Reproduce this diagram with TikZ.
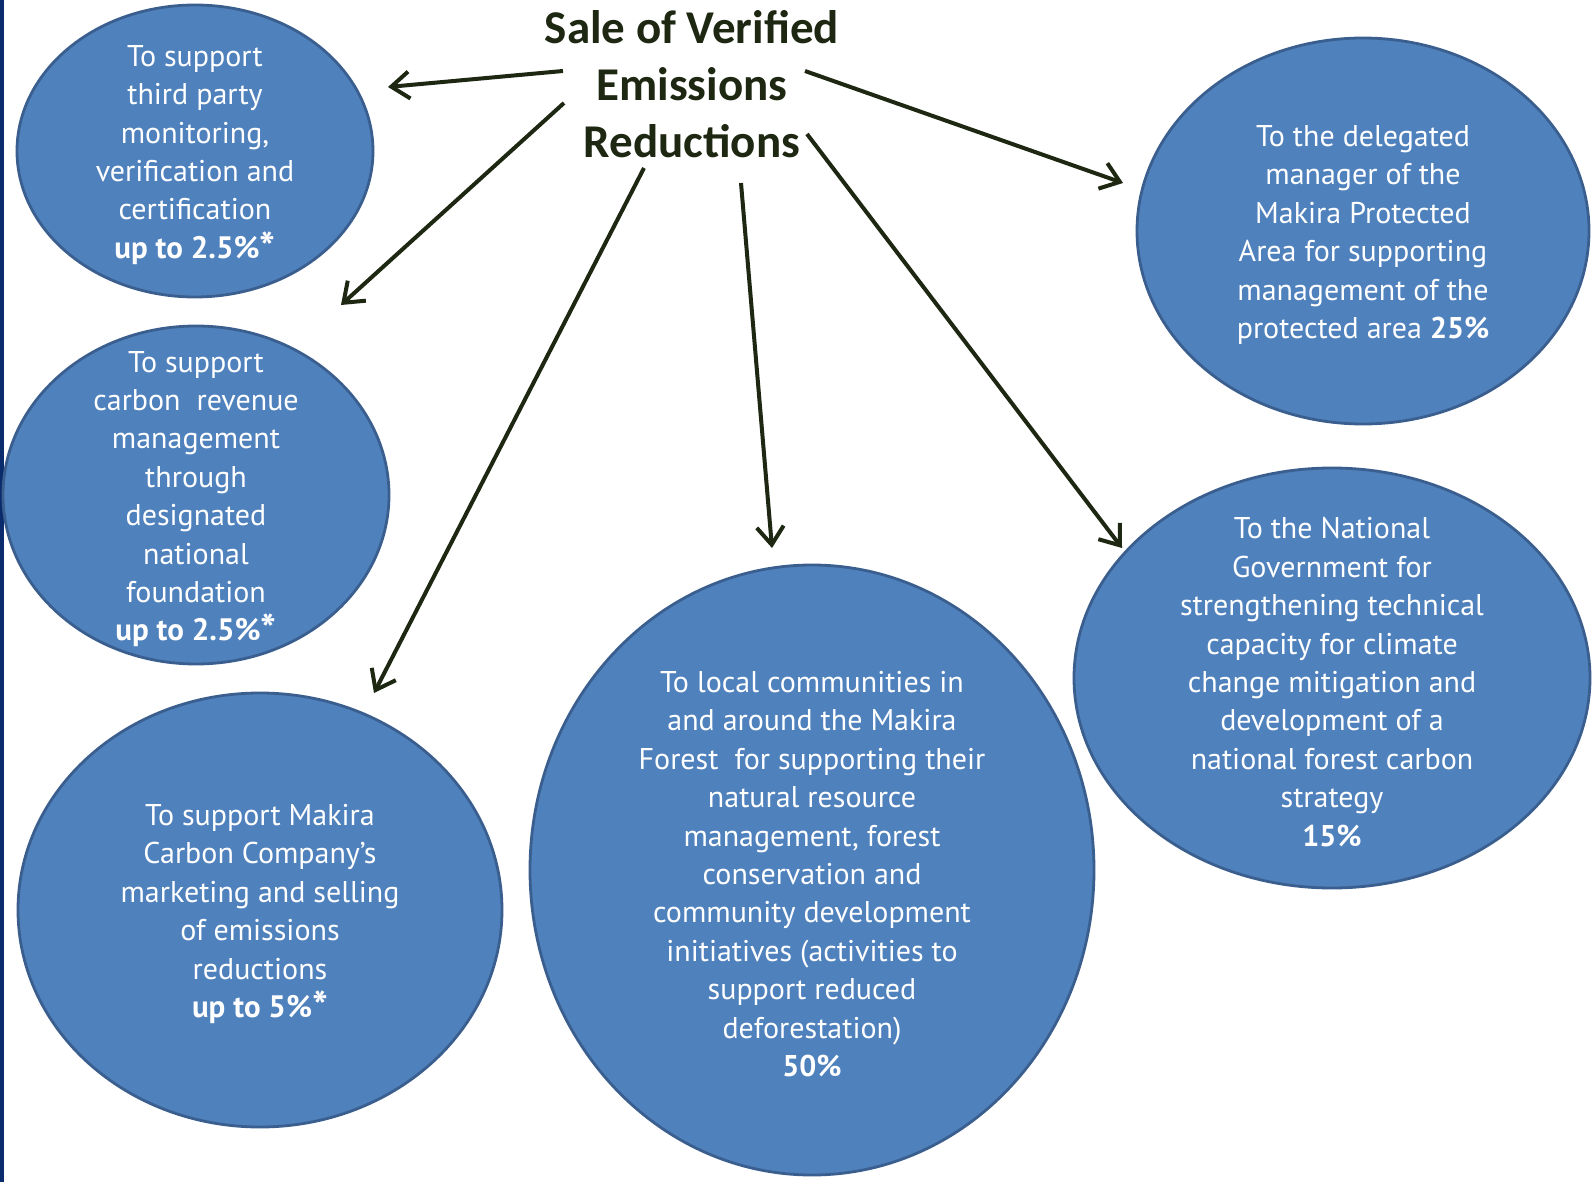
\documentclass[tikz,border=0pt]{standalone}
\usepackage{fontspec}
\setmainfont{PT Sans}
\newfontfamily\headfont{Carlito}
\usetikzlibrary{arrows.meta}
\usetikzlibrary{shapes.geometric}
\usetikzlibrary{positioning}
\definecolor{slideblue}{HTML}{4F81BD}
\definecolor{rimblue}{HTML}{3A5F8F}
\definecolor{inkgreen}{HTML}{1D2711}
\definecolor{barnavy}{HTML}{0B2C6C}
\tikzset{
share/.style={ellipse,
  draw=rimblue, line width=2.8pt, fill=slideblue,
    inner sep=0pt},
sharetext/.style={text=white, yshift=-4pt,
  inner sep=0pt,
    font=\fontsize{30}{38.4}\selectfont,
    align=center},
flow/.style={draw=inkgreen,
  line width=4pt, -{Straight Barb[length=18pt,width=27pt]},},
}
\newcommand{\upto}[1]{{\fontsize{31}{38.4}\selectfont\textbf{#1}}}
\newcommand{\bigstar}{\raisebox{-0.12em}{\fontsize{42}{38.4}\selectfont\textbf{*}}}

\begin{document}
\begin{tikzpicture}[x=1pt,y=-1pt]
    \useasboundingbox (0,0) rectangle (1595,1182);
    \fill[white] (0,0) rectangle (1595,1182);
    \fill[barnavy] (0,0) rectangle (4,1182);

    \node [font=\headfont\bfseries\fontsize{47}{57}\selectfont, text=inkgreen, align=center] (sale) at (692,84) {Sale of Verified\\Emissions\\Reductions};

    \node [share, minimum width=356pt, minimum height=292pt] (monitor) at (195,151) {};
    \node [share, minimum width=386pt, minimum height=338pt] (revenue) at (196,495) {};
    \node [share, minimum width=484pt, minimum height=434pt] (company) at (260,910) {};
    \node [share, minimum width=564pt, minimum height=610pt] (local) at (812,870) {};
    \node [share, minimum width=452pt, minimum height=386pt] (manager) at (1363,231) {};
    \node [share, minimum width=516pt, minimum height=420pt] (national) at (1332,678) {};

    \node [sharetext] (monitor-t) at (monitor) {To support\\third party\\monitoring,\\verification and\\certification\\\upto{up to 2.5\%\bigstar}};
    \node [sharetext] (revenue-t) at (revenue) {To support\\carbon~~revenue\\management\\through\\designated\\national\\foundation\\\upto{up to 2.5\%\bigstar}};
    \node [sharetext] (company-t) at (company) {To support Makira\\Carbon Company’s\\marketing and selling\\of emissions\\reductions\\\upto{up to 5\%\bigstar}};
    \node [sharetext] (local-t) at (local) {To local communities in\\and around the Makira\\Forest~~for supporting their\\natural resource\\management, forest\\conservation and\\community development\\initiatives (activities to\\support reduced\\deforestation)\\\textbf{50\%}};
    \node [sharetext] (manager-t) at (manager) {To the delegated\\manager of the\\Makira Protected\\Area for supporting\\management of the\\protected area \textbf{25\%}};
    \node [sharetext] (national-t) at (national) {To the National\\Government for\\strengthening technical\\capacity for climate\\change mitigation and\\development of a\\national forest carbon\\strategy\\\textbf{15\%}};

    % arrow ends, kept clear of the words and the ellipses
    \coordinate (s1) at (563,71);
    \coordinate (h1) at (388,87);
    \coordinate (s2) at (564,103);
    \coordinate (h2) at (341,305);
    \coordinate (s3) at (644,168);
    \coordinate (h3) at (374,693);
    \coordinate (s4) at (741,183);
    \coordinate (h4) at (772,548);
    \coordinate (s5) at (807,134);
    \coordinate (h5) at (1122,548);
    \coordinate (s6) at (805,71);
    \coordinate (h6) at (1123,183);

  \draw [flow] (s1) -- (h1);
  \draw [flow] (s2) -- (h2);
  \draw [flow] (s3) -- (h3);
  \draw [flow] (s4) -- (h4);
  \draw [flow] (s5) -- (h5);
  \draw [flow] (s6) -- (h6);
  \end{tikzpicture}
\end{document}
